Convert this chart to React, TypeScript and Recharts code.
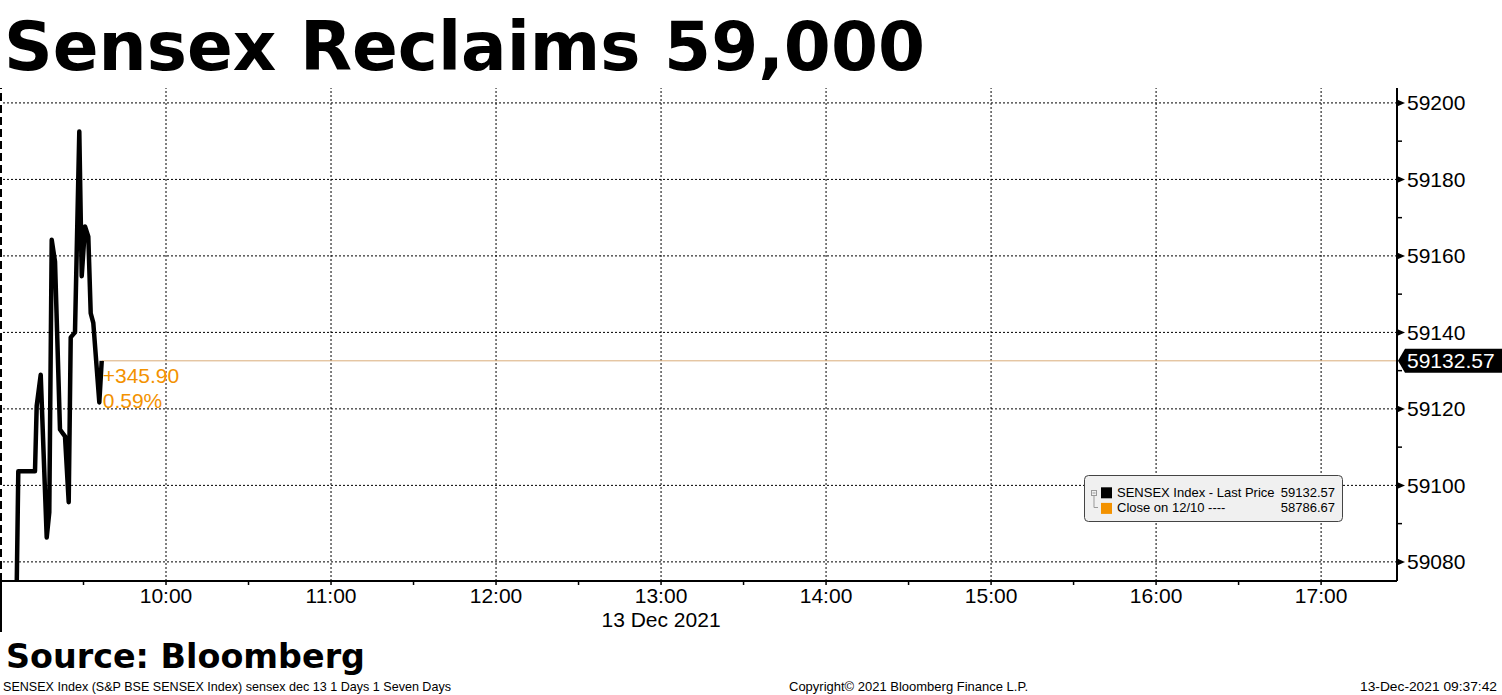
import React from 'react';
import { LineChart, Line, XAxis, YAxis, ReferenceLine, ReferenceDot, Legend } from 'recharts';

// ---- data (minutes after 09:00, 13 Dec 2021) ----
const minutesAfterNine = [5.45, 6.29, 12.36, 12.98, 14.44, 16.62, 17.56, 18.44, 19.64, 21.45, 23.27, 24.62, 25.35, 26.9, 28.47, 29.35, 30.55, 31.75, 32.62, 33.56, 35.75, 36.62];
const sensexPrices = [59060, 59103.7, 59103.7, 59120.8, 59128.9, 59086.4, 59093, 59164.2, 59158.5, 59114.6, 59112.8, 59095.6, 59138.7, 59140, 59192.5, 59154.7, 59167.7, 59165, 59145, 59142.5, 59121.7, 59132.57];

const xDomain = [0, 507.6];
const yDomain = [59075, 59203.9];
const xTicks = [0, 30, 60, 90, 120, 150, 180, 210, 240, 270, 300, 330, 360, 390, 420, 450, 480];
const hourTicks = [60, 120, 180, 240, 300, 360, 420, 480];
const hourLabels = ['10:00', '11:00', '12:00', '13:00', '14:00', '15:00', '16:00', '17:00'];
const dateTick = 240;
const dateLabel = '13 Dec 2021';
const yTicks = [59080, 59090, 59100, 59110, 59120, 59130, 59140, 59150, 59160, 59170, 59180, 59190, 59200];
const yGrid = [59080, 59100, 59120, 59140, 59160, 59180, 59200];

const seriesNames = ['SENSEX Index - Last Price', 'Close on 12/10 ----'];
const seriesColors = ['#000000', '#f39200'];
const legendValues = ['59132.57', '58786.67'];
const changeLabels = ['+345.90', '0.59%'];
const lastPriceLabel = '59132.57';

const titleText = 'Sensex Reclaims 59,000';
const sourceText = 'Source: Bloomberg';
const footerLeft = 'SENSEX Index (S&P BSE SENSEX Index) sensex dec 13 1 Days 1 Seven Days';
const footerMid = 'Copyright\u00A9 2021 Bloomberg Finance L.P.';
const footerRight = '13-Dec-2021 09:37:42';

const data = minutesAfterNine.map((t, i) => ({ t, price: sensexPrices[i] }));
const lastPoint = data[data.length - 1];

const AXIS_FONT = '"Liberation Sans", Arial, sans-serif';
const ORANGE = seriesColors[1];

const XTick = (props: any) => {
  const { x, y, payload } = props;
  const v = payload.value;
  const idx = hourTicks.indexOf(v);
  return (
    <g>
      {v === xTicks[0] ? (
        <line x1={x} x2={x} y1={y} y2={y + 51} stroke="#000" strokeWidth={2} />
      ) : (
        <line x1={x} x2={x} y1={y} y2={y + 4} stroke="#000" strokeWidth={1.5} />
      )}
      {idx >= 0 && (
        <text x={x} y={y + 22} textAnchor="middle" fontSize={21} fontFamily={AXIS_FONT} fill="#000">
          {hourLabels[idx]}
        </text>
      )}
      {v === dateTick && (
        <text x={x} y={y + 46} textAnchor="middle" fontSize={21} fontFamily={AXIS_FONT} fill="#000">
          {dateLabel}
        </text>
      )}
    </g>
  );
};

const YTick = (props: any) => {
  const { x, y, payload } = props;
  const v = payload.value;
  if (v % 20 === 0) {
    return (
      <g>
        <polygon points={`${x},${y - 3.5} ${x + 8},${y} ${x},${y + 3.5}`} fill="#000" />
        <text x={x + 10} y={y + 7.5} fontSize={21} fontFamily={AXIS_FONT} fill="#000">
          {v}
        </text>
      </g>
    );
  }
  return <line x1={x} x2={x + 5} y1={y} y2={y} stroke="#000" strokeWidth={1.5} />;
};

const PriceTag = (props: any) => {
  const vb = props.viewBox || {};
  const xr = vb.x + vb.width;
  const y = vb.y;
  return (
    <g>
      <polygon
        points={`${xr + 1},${y} ${xr + 8},${y - 12} ${xr + 106},${y - 12} ${xr + 106},${y + 12} ${xr + 8},${y + 12}`}
        fill="#000"
      />
      <text x={xr + 10} y={y + 7.5} fontSize={21} fontFamily={AXIS_FONT} fill="#fff">
        {lastPriceLabel}
      </text>
    </g>
  );
};

const ChangeLabel = (props: any) => {
  const vb = props.viewBox || {};
  const cx = vb.x + vb.width / 2;
  const cy = vb.y + vb.height / 2;
  return (
    <g>
      <text x={cx + 1} y={cy + 22} fontSize={21} fontFamily={AXIS_FONT} fill={ORANGE}>
        {changeLabels[0]}
      </text>
      <text x={cx + 1} y={cy + 47} fontSize={21} fontFamily={AXIS_FONT} fill={ORANGE}>
        {changeLabels[1]}
      </text>
    </g>
  );
};

const LegendBox = () => (
  <svg width={260} height={48} style={{ display: 'block' }}>
    <rect x={0.5} y={0.5} width={258} height={46} rx={4} ry={4} fill="#f0f0f0" stroke="#444" strokeWidth={1} />
    <rect x={7.5} y={15.5} width={5} height={5} fill="none" stroke="#999" strokeWidth={1} />
    <line x1={8.5} x2={11.5} y1={18} y2={18} stroke="#999" strokeWidth={1} />
    <line x1={10} x2={10} y1={21} y2={32.5} stroke="#999" strokeWidth={1} />
    <line x1={10} x2={14} y1={32.5} y2={32.5} stroke="#999" strokeWidth={1} />
    {seriesNames.map((name, i) => (
      <g key={name}>
        <rect x={17} y={12.3 + i * 15.6} width={11} height={11} fill={seriesColors[i]} />
        <text x={33} y={21.7 + i * 15.6} fontSize={13} fontFamily={AXIS_FONT} fill="#000">
          {name}
        </text>
        <text x={251} y={21.7 + i * 15.6} fontSize={13} fontFamily={AXIS_FONT} fill="#000" textAnchor="end">
          {legendValues[i]}
        </text>
      </g>
    ))}
  </svg>
);

export default function App() {
  return (
    <div style={{ position: 'absolute', left: 0, top: 0, width: 1502, height: 695, background: '#fff', overflow: 'hidden' }}>
      <LineChart width={1502} height={695} data={data} margin={{ top: 88, left: 1, right: 5, bottom: 74 }}>
        <XAxis
          dataKey="t"
          type="number"
          domain={xDomain}
          ticks={xTicks}
          interval={0}
          allowDataOverflow
          height={40}
          tickSize={0}
          tickMargin={0}
          tickLine={false}
          axisLine={{ stroke: '#000', strokeWidth: 2 }}
          tick={<XTick />}
        />
        <YAxis
          orientation="right"
          type="number"
          domain={yDomain}
          ticks={yTicks}
          interval={0}
          allowDataOverflow
          width={100}
          tickSize={0}
          tickMargin={0}
          tickLine={false}
          axisLine={{ stroke: '#000', strokeWidth: 2 }}
          tick={<YTick />}
        />
        {yGrid.map((v) => (
          <ReferenceLine key={`h${v}`} y={v} stroke="#000" strokeWidth={1} strokeDasharray="2 2" />
        ))}
        {hourTicks.map((v) => (
          <ReferenceLine key={`v${v}`} x={v} stroke="#000" strokeWidth={1} strokeDasharray="2 2" />
        ))}
        <ReferenceLine x={xDomain[0]} stroke="#000" strokeWidth={2} strokeDasharray="8 4" />
        <ReferenceLine
          segment={[
            { x: lastPoint.t, y: lastPoint.price },
            { x: xDomain[1], y: lastPoint.price },
          ]}
          stroke="#d9ad7a"
          strokeWidth={1}
        />
        <ReferenceLine y={lastPoint.price} stroke="none" label={<PriceTag />} />
        <Line
          type="linear"
          dataKey="price"
          name={seriesNames[0]}
          stroke={seriesColors[0]}
          strokeWidth={4.5}
          strokeLinejoin="round"
          dot={false}
          activeDot={false}
          isAnimationActive={false}
        />
        <ReferenceDot x={lastPoint.t} y={lastPoint.price} r={1} fill="none" stroke="none" label={<ChangeLabel />} />
        <Legend
          layout="vertical"
          align="center"
          verticalAlign="middle"
          wrapperStyle={{ left: 1084, top: 475, width: 260, height: 48 }}
          content={<LegendBox />}
        />
      </LineChart>
      <svg width={1502} height={695} style={{ position: 'absolute', left: 0, top: 0, pointerEvents: 'none' }}>
        <text x={4} y={70} fontSize={68} fontWeight="bold" fontFamily='"DejaVu Sans", Verdana, sans-serif' fill="#000" textLength={921} lengthAdjust="spacingAndGlyphs">
          {titleText}
        </text>
        <text x={6} y={668} fontSize={34} fontWeight="bold" fontFamily='"DejaVu Sans", Verdana, sans-serif' fill="#000" textLength={359} lengthAdjust="spacingAndGlyphs">
          {sourceText}
        </text>
        <text x={3} y={691} fontSize={13} fontFamily={AXIS_FONT} fill="#000" textLength={448} lengthAdjust="spacingAndGlyphs">
          {footerLeft}
        </text>
        <text x={789} y={691} fontSize={13} fontFamily={AXIS_FONT} fill="#000" textLength={239} lengthAdjust="spacingAndGlyphs">
          {footerMid}
        </text>
        <text x={1360} y={691} fontSize={13} fontFamily={AXIS_FONT} fill="#000" textLength={137} lengthAdjust="spacingAndGlyphs">
          {footerRight}
        </text>
      </svg>
    </div>
  );
}
